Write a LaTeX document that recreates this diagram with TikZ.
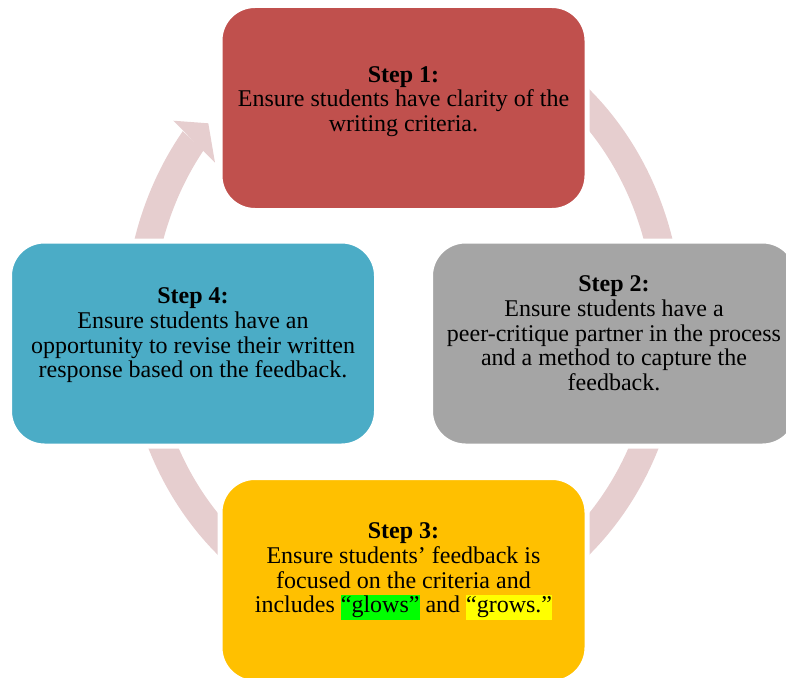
\documentclass[tikz,border=0pt]{standalone}
\usepackage{fontspec}
\setmainfont{Liberation Serif}
\usetikzlibrary{calc}
\definecolor{cone}{HTML}{C0504D}
\definecolor{ctwo}{HTML}{A5A5A5}
\definecolor{cthree}{HTML}{FFC000}
\definecolor{cfour}{HTML}{4BACC6}
\definecolor{ringc}{RGB}{230,206,207}
\definecolor{hlg}{HTML}{00FF00}
\definecolor{hly}{HTML}{FFFF00}
\newcommand{\hlbox}[2]{{\setlength{\fboxsep}{0pt}\colorbox{#1}{\strut #2}}}
\begin{document}
\begin{tikzpicture}[x=1pt,y=-1pt,
  stepbox/.style={rounded corners=35pt, draw=white, line width=5pt,
    minimum width=367pt, minimum height=205pt, inner sep=0pt},
  txt/.style={align=center, inner sep=0pt,
    font=\fontsize{24}{24.6}\selectfont}]
\useasboundingbox (0,0) rectangle (786,677);
\clip (0,0) rectangle (786,677);
% ring
\fill[ringc] plot[domain=142.3:450,samples=300] ({403.5+279*cos(\x)},{322-312*sin(\x)})
  -- plot[domain=450:142.8,samples=300] ({403.5+251*cos(\x)},{322-284*sin(\x)}) -- cycle;
\fill[ringc] (173.3,120.7) -- (208.3,123.3) -- (215,162.7) -- cycle;
% boxes
\node[stepbox, fill=cone]   (b1) at (403.5,108) {};
\node[stepbox, fill=ctwo]   (b2) at (614,343.5) {};
\node[stepbox, fill=cthree] (b3) at (403.5,580) {};
\node[stepbox, fill=cfour]  (b4) at (193,343.5) {};
% texts
\node[txt] (t1) at (403.5,101.4) {\textbf{Step 1:}\\Ensure students have clarity of the\\writing criteria.};
\node[txt] (t2) at (614,333.3) {\textbf{Step 2:}\\Ensure students have a\\peer-critique partner in the process\\and a method to capture the\\feedback.};
\node[txt] (t3) at (403.5,571.5) {\textbf{Step 3:}\\Ensure students’ feedback is\\focused on the criteria and\\includes \hlbox{hlg}{“glows”} and \hlbox{hly}{“grows.”}};
\node[txt] (t4) at (193,335.4) {\textbf{Step 4:}\\Ensure students have an\\opportunity to revise their written\\response based on the feedback.};
\end{tikzpicture}
\end{document}
